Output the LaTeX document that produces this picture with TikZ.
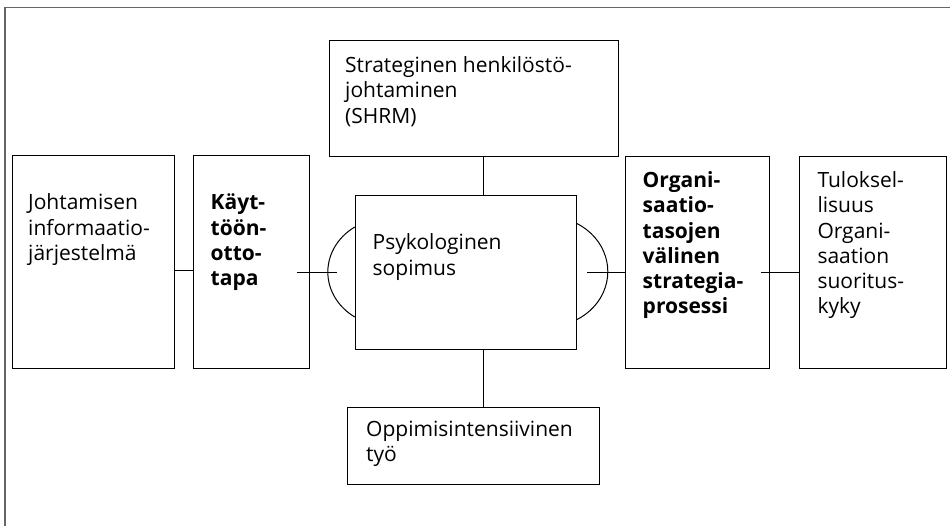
\documentclass[tikz,border=0pt]{standalone}
\usepackage{fontspec}
\setmainfont{Open Sans}
\begin{document}
\begin{tikzpicture}[x=1pt,y=-1pt,
  box/.style={draw=black,line width=1pt,inner sep=0pt},
  conn/.style={draw=black,line width=1pt},
  txt/.style={inner sep=0pt,anchor=base west,align=left,font=\fontsize{21}{25.3}\selectfont},
  frameline/.style={draw=black!60,line width=1.2pt}]
\useasboundingbox (0,0) rectangle (950,526);
\newcommand{\ml}[1]{\begin{tabular}[t]{@{}l@{}}#1\end{tabular}}
% frame
\coordinate (fa) at (5,526);
\coordinate (fb) at (5,7.5);
\coordinate (fc) at (951,7.5);
\draw[frameline] (fa) -- (fb) -- (fc);
% boxes
\node[box,minimum width=162pt,minimum height=212pt] (b1) at (93.3,262) {};
\node[box,minimum width=116pt,minimum height=212pt] (b2) at (251.3,262) {};
\node[box,minimum width=221pt,minimum height=154.3pt] (psy) at (465.8,272.2) {};
\node[box,minimum width=289.3pt,minimum height=115.3pt] (top) at (473.7,98.4) {};
\node[box,minimum width=251.6pt,minimum height=76.6pt] (bot) at (473.5,446) {};
\node[box,minimum width=143.6pt,minimum height=212pt] (org) at (697.5,262.7) {};
\node[box,minimum width=146.7pt,minimum height=212pt] (tul) at (873.3,262.7) {};
% texts
\node[txt] (t1) at (28,210) {\ml{Johtamisen\\informaatio-\\järjestelmä}};
\node[txt] (t2) at (210.5,210) {\ml{\bfseries Käyt-\\\bfseries töön-\\\bfseries otto-\\\bfseries tapa}};
\node[txt] (t3) at (372.5,250) {\ml{Psykologinen\\sopimus}};
\node[txt] (t4) at (345,72.5) {\ml{Strateginen henkilöstö-\\johtaminen\\(SHRM)}};
\node[txt] (t5) at (366,436.5) {\ml{Oppimisintensiivinen\\työ}};
\node[txt] (t6) at (642.5,187.5) {\ml{\bfseries Organi-\\\bfseries saatio-\\\bfseries tasojen\\\bfseries välinen\\\bfseries strategia-\\\bfseries prosessi}};
\node[txt] (t7) at (817.3,187.5) {\ml{Tuloksel-\\lisuus\\Organi-\\saation\\suoritus-\\kyky}};
% connectors
\draw[conn] (b1.east |- 0,271) -- (b2.west |- 0,271);
\coordinate (l1) at (297,272.5);
\coordinate (l2) at (337,272.5);
\draw[conn] (l1) -- (l2);
\coordinate (r1) at (587,272.5);
\draw[conn] (r1) -- (org.west |- r1);
\coordinate (r2) at (761,272.5);
\draw[conn] (r2) -- (tul.west |- r2);
\draw[conn] (top.south -| 483.3,0) -- (psy.north -| 483.3,0);
\draw[conn] (psy.south -| 483.3,0) -- (bot.north -| 483.3,0);
% arcs around psychological contract
\draw[conn] (psy.west |- 0,227) arc[start angle=-123.4,end angle=-236.6,x radius=60,y radius=53.9];
\draw[conn] (psy.east |- 0,223.5) arc[start angle=-61.1,end angle=61.1,x radius=60,y radius=54.9];
\end{tikzpicture}
\end{document}
